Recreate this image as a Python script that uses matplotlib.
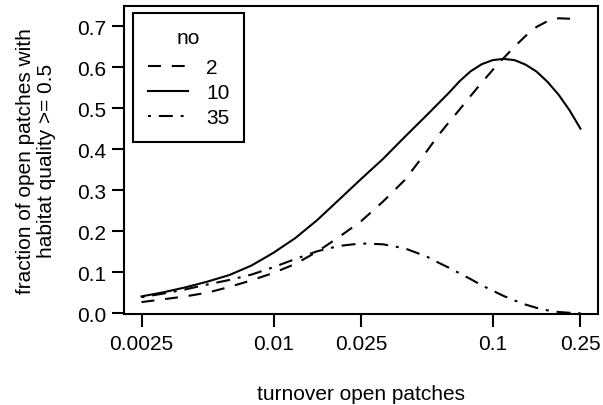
import numpy as np
import matplotlib.pyplot as plt

plt.rcParams['font.family'] = ['Liberation Sans', 'DejaVu Sans']

# turnover rates on a log grid 0.0025 * 10^(k/10), half steps from k = 13
turnover = [0.0025, 0.00315, 0.00396, 0.00499, 0.00628, 0.00791, 0.00996,
            0.01254, 0.01579, 0.01988, 0.025, 0.03147, 0.03962, 0.04988,
            0.05597, 0.06279, 0.07046, 0.07906, 0.0887, 0.09953, 0.1117,
            0.1253, 0.1406, 0.1578, 0.1770, 0.1986, 0.2228, 0.25]

# fraction of open patches with habitat quality >= 0.5, by number "no"
frac_2 = [0.027, 0.034, 0.041, 0.050, 0.064, 0.080, 0.098, 0.120, 0.150,
          0.186, 0.224, 0.272, 0.325, 0.395, 0.432, 0.465, 0.497, 0.530,
          0.562, 0.593, 0.622, 0.650, 0.676, 0.698, 0.712, 0.719, 0.718,
          0.711]
frac_10 = [0.041, 0.051, 0.063, 0.077, 0.093, 0.116, 0.147, 0.183, 0.227,
           0.277, 0.327, 0.376, 0.430, 0.483, 0.510, 0.537, 0.566, 0.590,
           0.607, 0.617, 0.620, 0.617, 0.606, 0.589, 0.564, 0.533, 0.495,
           0.450]
frac_35 = [0.039, 0.048, 0.058, 0.070, 0.081, 0.094, 0.112, 0.132, 0.151,
           0.164, 0.170, 0.168, 0.158, 0.138, 0.124, 0.111, 0.097, 0.083,
           0.068, 0.055, 0.042, 0.031, 0.021, 0.013, 0.007, 0.003, 0.001,
           0.000]

labels = ['2', '10', '35']
xticks = [0.0025, 0.01, 0.025, 0.1, 0.25]
xticklabels = ['0.0025', '0.01', '0.025', '0.1', '0.25']
yticks = [0.0, 0.1, 0.2, 0.3, 0.4, 0.5, 0.6, 0.7]

fs = 15
fig = plt.figure(figsize=(6.03, 4.06), dpi=100)
ax = fig.add_axes([0.2056, 0.2241, 0.7861, 0.7587])

lw = 1.5
ax.plot(turnover, frac_2, color='black', lw=lw, dashes=(6.2, 5.2),
        dash_capstyle='butt', label=labels[0])
ax.plot(turnover, frac_10, color='black', lw=lw, label=labels[1])
ax.plot(turnover, frac_35, color='black', lw=lw, dashes=(1.4, 3.8, 6.7, 3.8),
        dash_capstyle='butt', label=labels[2])

# log x axis with 4% padding on both ends
ax.set_xscale('log')
lo, hi = np.log10(0.0025), np.log10(0.25)
pad = 0.04 * (hi - lo)
ax.set_xlim(10 ** (lo - pad), 10 ** (hi + pad))
ax.set_ylim(-0.002, 0.749)

ax.set_xticks(xticks)
ax.set_xticklabels(xticklabels)
ax.xaxis.set_minor_locator(plt.NullLocator())
ax.set_yticks(yticks)
ax.set_yticklabels(['%.1f' % v for v in yticks])

ax.tick_params(axis='both', direction='out', length=9, width=1.5,
               labelsize=fs, color='black')
ax.tick_params(axis='x', pad=5.5)
ax.tick_params(axis='y', pad=4)
for s in ax.spines.values():
    s.set_linewidth(1.5)

ax.set_xlabel('turnover open patches', fontsize=fs, labelpad=22)
ax.set_ylabel('fraction of open patches with\nhabitat quality >= 0.5',
              fontsize=fs, labelpad=15, linespacing=1.1)

leg = ax.legend(title='no', loc='upper left', bbox_to_anchor=(0.019, 0.977),
                borderaxespad=0, fontsize=fs, title_fontsize=fs,
                handlelength=1.92, handletextpad=0.86, borderpad=0.72,
                labelspacing=0.29, fancybox=False, framealpha=1,
                edgecolor='black')
leg.get_frame().set_linewidth(1.5)
# extra room between the legend title and the entries
leg._legend_box.sep = 8.0

fig.savefig('out.png', dpi=100)
